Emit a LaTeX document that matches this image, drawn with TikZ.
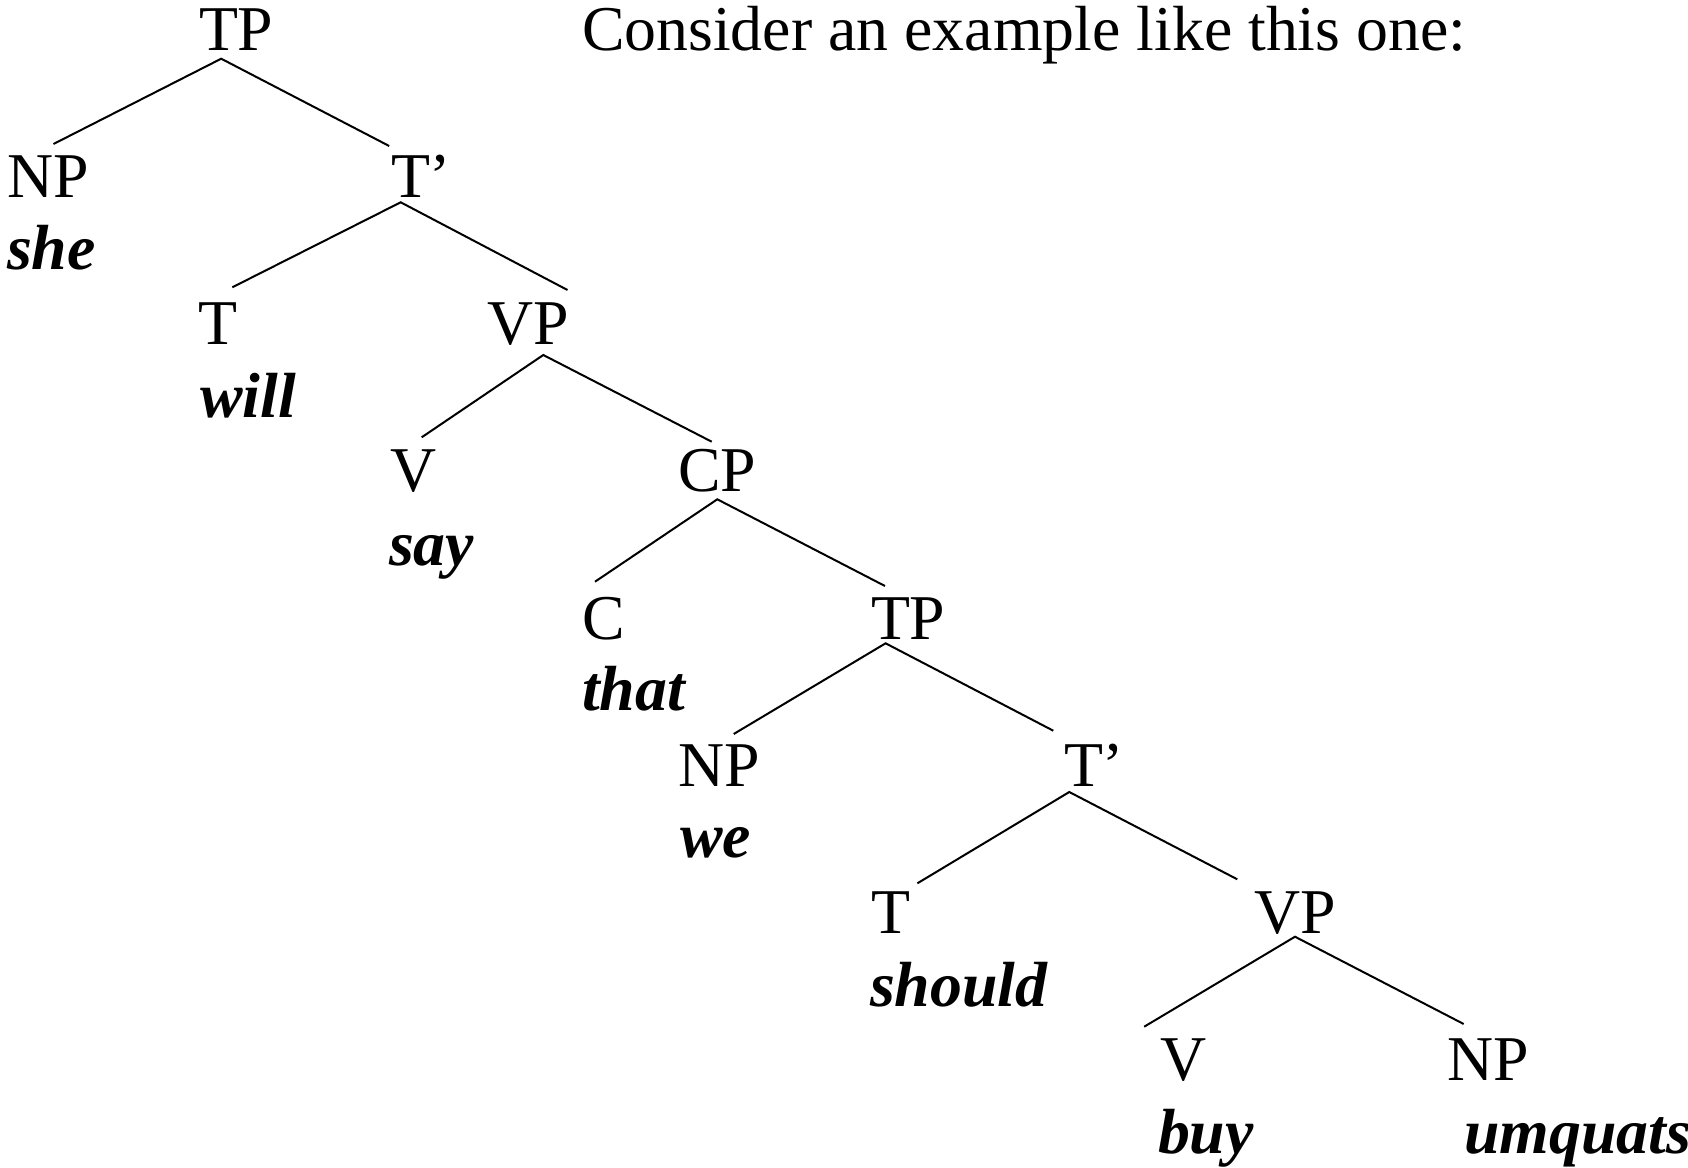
\documentclass[tikz,border=0pt]{standalone}
\usepackage{fontspec}
\setmainfont{Liberation Serif}
\begin{document}
\begin{tikzpicture}[x=1bp,y=-1bp,
  lbl/.style={anchor=base west,inner sep=0pt,outer sep=0pt,
    font=\fontsize{63.8bp}{70bp}\selectfont},
  word/.style={lbl,font=\fontsize{63.8bp}{70bp}\selectfont\bfseries\itshape},
  branch/.style={line width=2bp,line cap=butt}]
\useasboundingbox[fill=white] (0,0) rectangle (1688,1167);

% heading
\node[lbl] (consider) at (582,50.7) {Consider an example like this one:};

% category labels
\node[lbl] (tp0) at (199,50.7) {TP};
\node[lbl] (np1) at (7,197) {NP};
\node[lbl] (tb1) at (391,197) {T’};
\node[lbl] (t2)  at (198,344.4) {T};
\node[lbl] (vp2) at (487,344.4) {VP};
\node[lbl] (v3)  at (390,491.5) {V};
\node[lbl] (cp3) at (678,491.5) {CP};
\node[lbl] (c4)  at (582,639) {C};
\node[lbl] (tp4) at (871,639) {TP};
\node[lbl] (np5) at (678,786) {NP};
\node[lbl] (tb5) at (1064,786) {T’};
\node[lbl] (t6)  at (871,933) {T};
\node[lbl] (vp6) at (1254,933) {VP};
\node[lbl] (v7)  at (1160,1080) {V};
\node[lbl] (np7) at (1447,1080) {NP};

% words
\node[word] (she)    at (7,269) {she};
\node[word] (will)   at (200,417.5) {will};
\node[word] (say)    at (389,565) {say};
\node[word] (that)   at (582,710.5) {that};
\node[word] (we)     at (680,857) {we};
\node[word] (should) at (870,1006.6) {should};
\node[word] (buy)    at (1158,1153) {buy};
\node[word] (umq)    at (1464,1153) {umquats};

% branch points
\coordinate (tp0-a) at (221.2,58.7);
\coordinate (tb1-a) at (400.7,202.3);
\coordinate (vp2-a) at (543.3,355);
\coordinate (cp3-a) at (717.3,499.3);
\coordinate (tp4-a) at (885.6,643.3);
\coordinate (tb5-a) at (1069.3,792);
\coordinate (vp6-a) at (1295,936.7);

% branch ends above each daughter
\coordinate (np1-e) at (53.5,144);
\coordinate (tb1-e) at (389.2,146);
\coordinate (t2-e)  at (232.3,287.3);
\coordinate (vp2-e) at (567.5,290);
\coordinate (v3-e)  at (421.7,437.3);
\coordinate (cp3-e) at (711.7,441.7);
\coordinate (c4-e)  at (595,581.7);
\coordinate (tp4-e) at (885,586);
\coordinate (np5-e) at (733.7,734);
\coordinate (tb5-e) at (1053.3,730.7);
\coordinate (t6-e)  at (917.4,883.3);
\coordinate (vp6-e) at (1237.3,879.3);
\coordinate (v7-e)  at (1144.2,1026.7);
\coordinate (np7-e) at (1463.7,1024);

\draw[branch] (np1-e) -- (tp0-a) -- (tb1-e);
\draw[branch] (t2-e)  -- (tb1-a) -- (vp2-e);
\draw[branch] (v3-e)  -- (vp2-a) -- (cp3-e);
\draw[branch] (c4-e)  -- (cp3-a) -- (tp4-e);
\draw[branch] (np5-e) -- (tp4-a) -- (tb5-e);
\draw[branch] (t6-e)  -- (tb5-a) -- (vp6-e);
\draw[branch] (v7-e)  -- (vp6-a) -- (np7-e);
\end{tikzpicture}
\end{document}
